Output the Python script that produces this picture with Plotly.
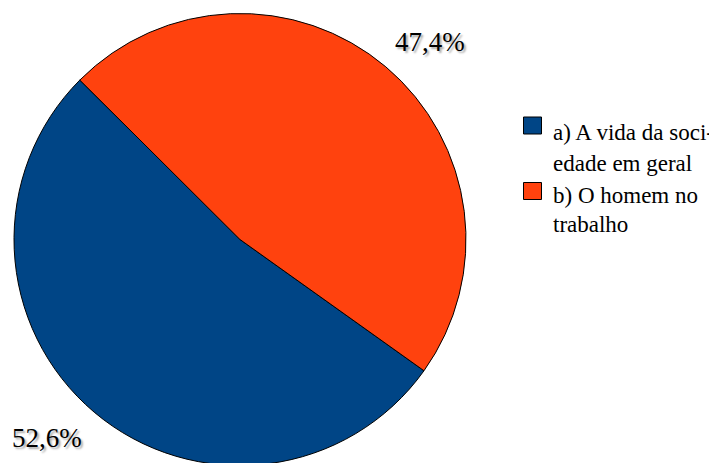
import plotly.graph_objects as go

categories = ["a) A vida da soci-<br>edade em geral", "b) O homem no<br>trabalho"]
values = [52.6, 47.4]
colors = ["#004586", "#ff420e"]

W, H = 717, 463
OFF = 8  # page body margin offset
SERIF = "Liberation Serif"


def px_x(x):
    return (x - OFF) / W


def px_y(y):
    return 1 - (y - OFF) / H


fig = go.Figure()
fig.add_trace(go.Pie(
    labels=[c.replace("<br>", " ") for c in categories],
    values=values,
    sort=False,
    direction="clockwise",
    rotation=125.5,
    marker=dict(colors=colors, line=dict(color="#000000", width=1)),
    textinfo="none",
    hoverinfo="label+percent",
    showlegend=False,
    domain=dict(x=[px_x(14), px_x(466)], y=[0, 1]),
))

# percentage labels
label_pos = [(47, 438), (430, 42)]
for v, (lx, ly) in zip(values, label_pos):
    fig.add_annotation(
        x=px_x(lx), y=px_y(ly), xref="paper", yref="paper",
        text=f"{v:.1f}".replace(".", ",") + "%",
        showarrow=False,
        font=dict(family=SERIF, size=27, color="#000000",
                  shadow="2px 2px 2px #aaaaaa"),
        xanchor="center", yanchor="middle",
    )

# legend (drawn manually to match symbol size and line spacing)
sq_top = [117, 182.5]
line_centers = [[132.5, 163], [195.5, 224]]
for i, cat in enumerate(categories):
    fig.add_shape(
        type="rect", xref="paper", yref="paper",
        x0=px_x(523.5), x1=px_x(541.5), y0=px_y(sq_top[i]), y1=px_y(sq_top[i] + 17),
        fillcolor=colors[i], line=dict(color="#000000", width=1),
    )
    for line, cy in zip(cat.split("<br>"), line_centers[i]):
        fig.add_annotation(
            x=px_x(551), y=px_y(cy), xref="paper", yref="paper",
            text=line, showarrow=False,
            font=dict(family=SERIF, size=23, color="#000000"),
            xanchor="left", yanchor="middle",
        )

fig.update_layout(
    width=W, height=H,
    margin=dict(l=0, r=0, t=0, b=0),
    paper_bgcolor="white",
    plot_bgcolor="white",
    font=dict(family=SERIF),
    showlegend=False,
)

fig.write_html("out.html")
